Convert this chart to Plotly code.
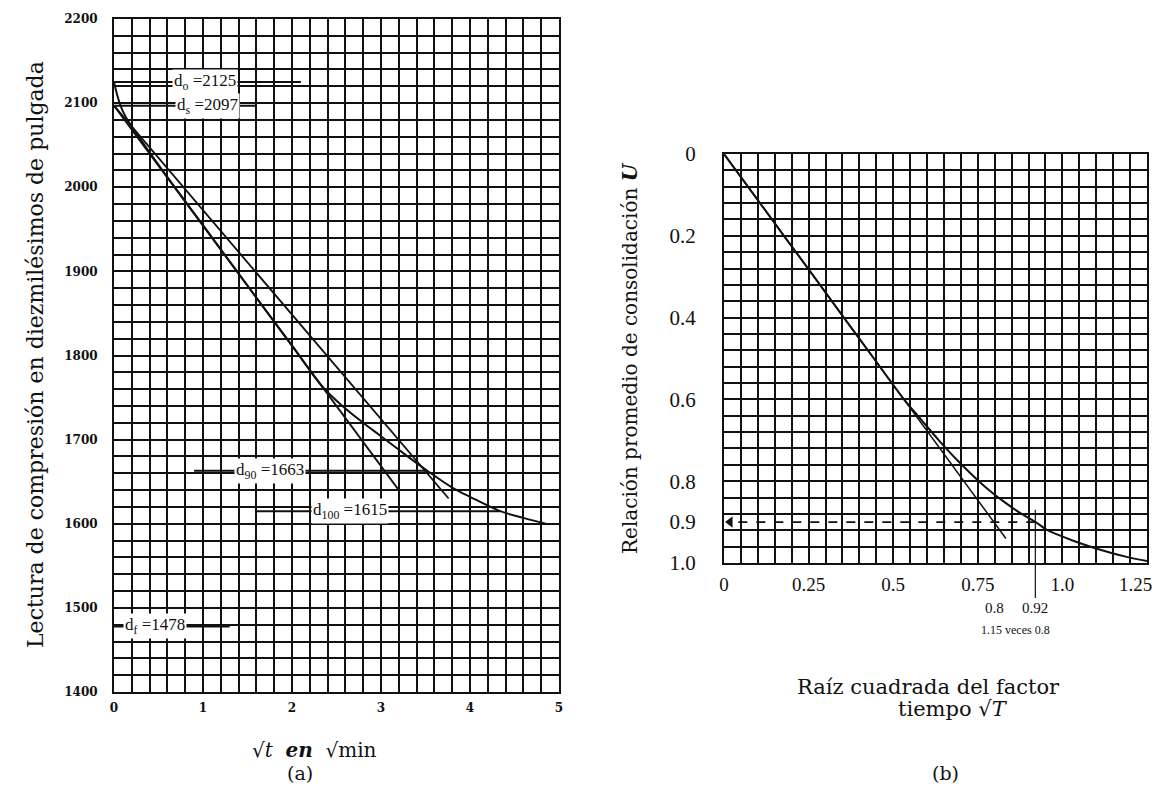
import plotly.graph_objects as go

W, H = 1163, 797
OFF = 8  # page body margin offset of the rendered figure

# ---------------- Panel (a) data ----------------
a_curve_x = [0.0, 0.03, 0.07, 0.12, 0.2, 0.35, 0.6, 1.0, 1.5, 2.0, 2.35, 2.6, 2.8, 3.0, 3.25, 3.52, 3.8, 4.0, 4.34, 4.6, 4.85]
a_curve_y = [2125, 2112, 2098, 2086, 2072, 2049, 2012, 1955, 1883, 1812, 1762, 1737, 1720, 1704, 1684, 1663, 1643, 1632, 1615, 1607, 1600]
a_line1_x = [0.0, 3.2]
a_line1_y = [2097, 1640]
a_line2_x = [0.0, 3.76]
a_line2_y = [2097, 1630]
a_xticks = [0, 1, 2, 3, 4, 5]
a_yticks = [1400, 1500, 1600, 1700, 1800, 1900, 2000, 2100, 2200]
a_marks = ["d<sub>o</sub> =2125", "d<sub>s</sub> =2097", "d<sub>90</sub> =1663", "d<sub>100</sub> =1615", "d<sub>f</sub> =1478"]
a_mark_vals = [2125, 2097, 1663, 1615, 1478]
a_mark_x = [1.02, 1.05, 1.75, 2.65, 0.46]
a_lead_x0 = [0.0, 0.0, 0.9, 1.6, 0.0]
a_lead_x1 = [2.1, 1.6, 3.52, 4.34, 1.3]

# ---------------- Panel (b) data ----------------
b_curve_x = [0.0, 0.0886, 0.177, 0.266, 0.354, 0.443, 0.532, 0.583, 0.635, 0.691, 0.753, 0.788, 0.827, 0.870, 0.921, 0.954, 0.990, 1.03, 1.09, 1.19, 1.25]
b_curve_u = [0.0, 0.1, 0.2, 0.3, 0.4, 0.5, 0.6, 0.65, 0.7, 0.75, 0.8, 0.825, 0.85, 0.875, 0.9, 0.919, 0.932, 0.945, 0.962, 0.985, 0.995]
b_line_x = [0.0, 0.833]
b_line_u = [0.0, 0.94]
b_xticks = [0, 0.25, 0.5, 0.75, 1.0, 1.25]
b_xtext = ["0", "0.25", "0.5", "0.75", "1.0", "1.25" + "\u2009" * 6]
b_yticks = [0, 0.2, 0.4, 0.6, 0.8, 0.9, 1.0]
b_ytext = ["0", "0.2", "0.4", "0.6", "0.8", "0.9", "1.0"]
b_u90 = 0.9
b_t90 = 0.92

SERIF = "Liberation Serif, Times New Roman, serif"
WIDE = "DejaVu Serif, Liberation Serif, serif"
INK = "#111111"

FW, FH = W - OFF, H - OFF

# pixel geometry (window pixels) of the two plot frames
ax_l, ax_r, ax_t, ax_b = 114, 559, 19, 692
bx_l, bx_r, bx_t, bx_b = 724, 1147, 154, 563

def px(x):
    return (x - OFF) / FW

def py(y):
    return 1 - (y - OFF) / FH

fig = go.Figure()

line_style = dict(color=INK, width=1.8)
fig.add_trace(go.Scatter(x=a_curve_x, y=a_curve_y, mode="lines", line=dict(color=INK, width=2, shape="spline"),
                         xaxis="x", yaxis="y", showlegend=False, hoverinfo="skip"))
fig.add_trace(go.Scatter(x=a_line1_x, y=a_line1_y, mode="lines", line=line_style,
                         xaxis="x", yaxis="y", showlegend=False, hoverinfo="skip"))
fig.add_trace(go.Scatter(x=a_line2_x, y=a_line2_y, mode="lines", line=line_style,
                         xaxis="x", yaxis="y", showlegend=False, hoverinfo="skip"))

fig.add_trace(go.Scatter(x=b_curve_x, y=b_curve_u, mode="lines", line=dict(color=INK, width=2, shape="spline"),
                         xaxis="x2", yaxis="y2", showlegend=False, hoverinfo="skip"))
fig.add_trace(go.Scatter(x=b_line_x, y=b_line_u, mode="lines", line=dict(color=INK, width=1.5),
                         xaxis="x2", yaxis="y2", showlegend=False, hoverinfo="skip"))
# dashed arrow at U = 0.9
fig.add_trace(go.Scatter(x=[b_t90, 0.02], y=[b_u90, b_u90], mode="lines", line=dict(color=INK, width=1.8, dash="dash"),
                         xaxis="x2", yaxis="y2", showlegend=False, hoverinfo="skip"))
fig.add_trace(go.Scatter(x=[0.018], y=[b_u90], mode="markers", marker=dict(symbol="triangle-left", size=10, color=INK),
                         cliponaxis=False, xaxis="x2", yaxis="y2", showlegend=False, hoverinfo="skip"))
# invisible trace for the grid overlay axis
fig.add_trace(go.Scatter(x=[0], y=[0], mode="markers", marker=dict(opacity=0), xaxis="x2", yaxis="y3",
                         showlegend=False, hoverinfo="skip"))

grid = dict(showgrid=True, gridcolor=INK, gridwidth=1.5)
frame = dict(showline=True, linecolor=INK, linewidth=2, mirror=True, zeroline=False, automargin=False,
             ticklabeloverflow="allow")

fig.update_layout(
    width=FW, height=FH,
    margin=dict(l=0, r=0, t=0, b=0, pad=0, autoexpand=False),
    paper_bgcolor="white", plot_bgcolor="white",
    showlegend=False,
    xaxis=dict(domain=[px(ax_l), px(ax_r)], anchor="y", range=[0, 5],
               tickmode="array", tickvals=a_xticks, ticktext=[str(v) for v in a_xticks],
               minor=dict(dtick=0.2, tick0=0, showgrid=True, gridcolor=INK, gridwidth=1.5),
               tickfont=dict(family=WIDE, size=12, color=INK, weight="bold"), ticklabelstandoff=4,
               **grid, **frame),
    yaxis=dict(domain=[py(ax_b), py(ax_t)], anchor="x", range=[1400, 2200],
               tickmode="array", tickvals=a_yticks, ticktext=[str(v) for v in a_yticks],
               minor=dict(dtick=20, tick0=1400, showgrid=True, gridcolor=INK, gridwidth=1.5),
               tickfont=dict(family=WIDE, size=12, color=INK, weight="bold"), ticklabelstandoff=12,
               **grid, **frame),
    xaxis2=dict(domain=[px(bx_l), px(bx_r)], anchor="y2", range=[0, 1.25],
                tickmode="array", tickvals=b_xticks, ticktext=b_xtext,
                minor=dict(dtick=0.05, tick0=0, showgrid=True, gridcolor=INK, gridwidth=1.5),
                tickfont=dict(family=SERIF, size=19, color=INK), ticklabelstandoff=3,
                **grid, **frame),
    yaxis2=dict(domain=[py(bx_b), py(bx_t)], anchor="x2", range=[1.0, 0.0],
                tickmode="array", tickvals=b_yticks, ticktext=b_ytext,
                showgrid=False,
                tickfont=dict(family=SERIF, size=21, color=INK), ticklabelstandoff=22,
                **frame),
    yaxis3=dict(overlaying="y2", anchor="x2", range=[1.0, 0.0], tickmode="linear", tick0=0, dtick=0.04,
                showticklabels=False, showline=False, zeroline=False, automargin=False, **grid),
)

shapes = []
for y, x0, x1 in zip(a_mark_vals, a_lead_x0, a_lead_x1):
    shapes.append(dict(type="line", xref="x", yref="y", x0=x0, x1=x1, y0=y, y1=y,
                       line=dict(color=INK, width=2)))
# vertical marker at sqrt(T)=0.92 extending below the axis
b_dom_top, b_dom_bot = py(bx_t), py(bx_b)
def b_paper_y(u):
    return b_dom_top - u * (b_dom_top - b_dom_bot)
shapes.append(dict(type="line", xref="x2", yref="paper", x0=b_t90, x1=b_t90,
                   y0=b_paper_y(0.87), y1=py(598), line=dict(color=INK, width=1.2)))
fig.update_layout(shapes=shapes)

ann = []
for t, y, x in zip(a_marks, a_mark_vals, a_mark_x):
    ann.append(dict(text=t, x=x, y=y, xref="x", yref="y", showarrow=False, bgcolor="white",
                    borderpad=1, font=dict(family=SERIF, size=17, color=INK)))

def label(text, x, y, size, family=WIDE, angle=0):
    return dict(text=text, x=px(x), y=py(y), xref="paper", yref="paper", xanchor="center", yanchor="middle",
                textangle=angle, showarrow=False, font=dict(family=family, size=size, color=INK))

ann += [
    label("Lectura de compresión en diezmilésimos de pulgada", 36, 355, 22, angle=-90),
    label("√<i>t</i>  <b><i>en</i></b>  √min", 314, 750, 20),
    label("(a)", 300, 773, 19),
    label("Relación promedio de consolidación <b><i>U</i></b>", 630, 358, 20, angle=-90),
    label("Raíz cuadrada del factor", 928, 687, 21),
    label("tiempo √<i>T</i>", 953, 709, 21),
    label("(b)", 945, 773, 19),
    dict(text="0.8", x=0.8, y=py(608), xref="x2", yref="paper", xanchor="center", yanchor="middle",
         showarrow=False, font=dict(family=SERIF, size=15, color=INK)),
    dict(text="0.92", x=b_t90, y=py(608), xref="x2", yref="paper", xanchor="center", yanchor="middle",
         showarrow=False, font=dict(family=SERIF, size=15, color=INK)),
    dict(text="1.15 veces 0.8", x=0.86, y=py(630), xref="x2", yref="paper", xanchor="center", yanchor="middle",
         showarrow=False, font=dict(family=SERIF, size=12, color=INK)),
]
fig.update_layout(annotations=ann)

fig.write_html("out.html")
